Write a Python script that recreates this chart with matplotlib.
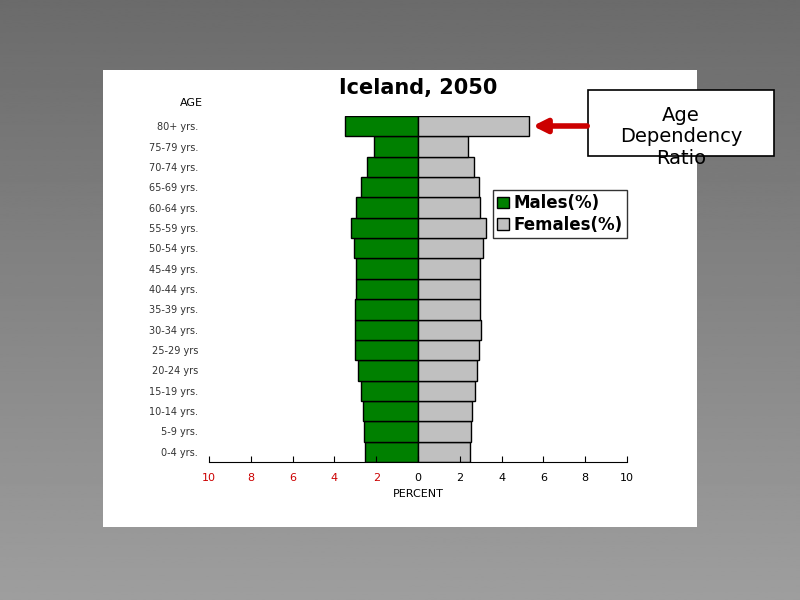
import numpy as np
import matplotlib.pyplot as plt
from matplotlib.patches import Rectangle

ages = ["0-4 yrs.", "5-9 yrs.", "10-14 yrs.", "15-19 yrs.", "20-24 yrs", "25-29 yrs",
        "30-34 yrs.", "35-39 yrs.", "40-44 yrs.", "45-49 yrs.", "50-54 yrs.", "55-59 yrs.",
        "60-64 yrs.", "65-69 yrs.", "70-74 yrs.", "75-79 yrs.", "80+ yrs."]
males = [2.55, 2.6, 2.65, 2.75, 2.85, 3.0, 3.0, 3.0, 2.95, 2.95, 3.05, 3.2, 2.95, 2.75, 2.45, 2.1, 3.5]
females = [2.5, 2.55, 2.6, 2.75, 2.8, 2.9, 3.0, 2.95, 2.95, 2.95, 3.1, 3.25, 2.95, 2.9, 2.7, 2.4, 5.3]
xticks = [-10, -8, -6, -4, -2, 0, 2, 4, 6, 8, 10]

W, H = 800, 600
fig = plt.figure(figsize=(8, 6), dpi=100)
# gray gradient background
bg = fig.add_axes([0, 0, 1, 1])
grad = np.linspace(0.42, 0.62, 256).reshape(-1, 1)
bg.imshow(grad, cmap="gray", aspect="auto", extent=[0, 1, 0, 1], vmin=0, vmax=1)
bg.add_patch(Rectangle((103 / W, 1 - 527 / H), (697 - 103) / W, (527 - 70) / H,
                       facecolor="white", edgecolor="none"))
bg.set_xlim(0, 1)
bg.set_ylim(0, 1)
bg.axis("off")

ax = fig.add_axes([209 / W, 1 - 462 / H, (627 - 209) / W, (462 - 116) / H])
y = np.arange(len(ages))
ax.barh(y, [-m for m in males], height=1.0, color="#008000", edgecolor="black", linewidth=1,
        label="Males(%)")
ax.barh(y, females, height=1.0, color="#c0c0c0", edgecolor="black", linewidth=1,
        label="Females(%)")
ax.set_xlim(-10, 10)
ax.set_ylim(-0.5, len(ages) - 0.5)
ax.set_yticks(y)
ax.set_yticklabels(ages, fontsize=7, color="#333333")
ax.tick_params(axis="y", length=0, pad=8)
ax.set_xticks(xticks)
ax.set_xticklabels([str(abs(t)) for t in xticks], fontsize=8)
for lbl, t in zip(ax.get_xticklabels(), xticks):
    if t < 0:
        lbl.set_color("#cc0000")
ax.tick_params(axis="x", direction="in", length=4, pad=8)
for s in ["top", "right", "left"]:
    ax.spines[s].set_visible(False)
ax.set_facecolor("none")
ax.set_xlabel("PERCENT", fontsize=8, labelpad=4)
ax.text(-10.3, len(ages) - 0.1, "AGE", fontsize=8, ha="right", va="bottom")
ax.set_title("Iceland, 2050", fontsize=15, fontweight="bold", pad=16)
leg = ax.legend(loc="upper right", bbox_to_anchor=(1.02, 0.81), frameon=True,
                fancybox=False, edgecolor="black", handlelength=0.7, handletextpad=0.3,
                borderpad=0.25, labelspacing=0.2, prop={"weight": "bold", "size": 12})

# annotation box and arrow
bg.add_patch(Rectangle((588 / W, 1 - 156 / H), 186 / W, 66 / H, facecolor="white",
                       edgecolor="black", linewidth=1.2))
bg.text(681 / W, 1 - 137 / H, "Age\nDependency\nRatio", ha="center", va="center",
        fontsize=14, linespacing=1.15)
bg.annotate("", xy=(530 / W, 1 - 126 / H), xytext=(590 / W, 1 - 126 / H),
            arrowprops=dict(arrowstyle="-|>,head_width=0.4,head_length=0.8",
                            color="#cc0000", lw=4))

fig.savefig("out.png", dpi=100)
